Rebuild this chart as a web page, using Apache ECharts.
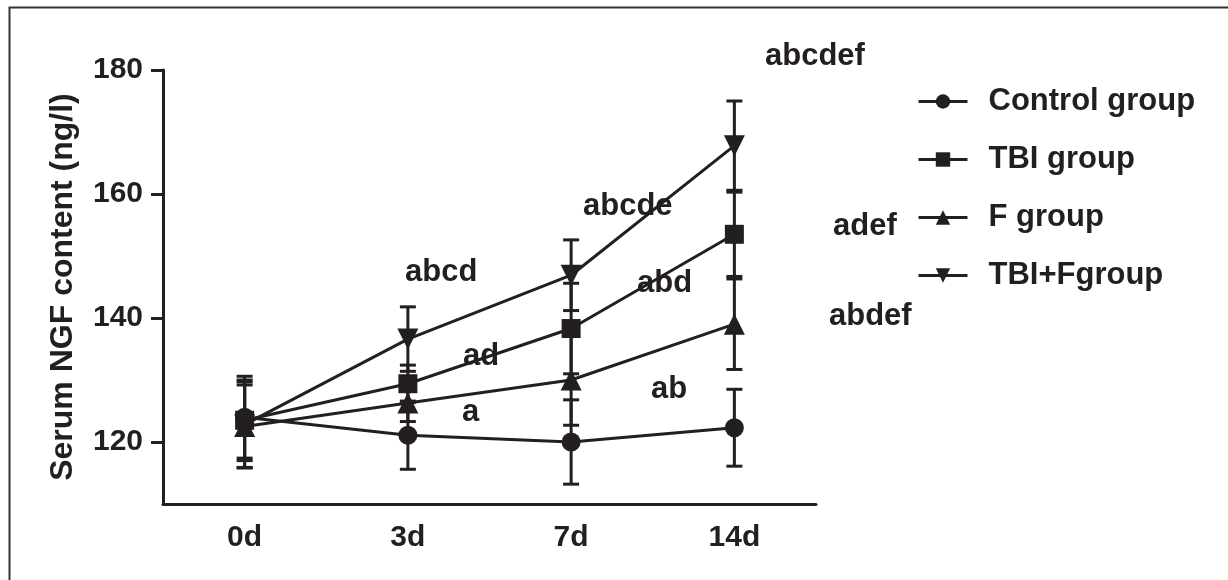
<!DOCTYPE html>
<html>
<head>
<meta charset="utf-8">
<script src="https://cdn.jsdelivr.net/npm/echarts@6/dist/echarts.min.js"></script>
<style>
  html, body { margin: 0; padding: 0; background: #fff; }
  #main { width: 1228px; height: 580px; }
</style>
</head>
<body>
<div id="main"></div>
<script>
// days
var days = ['0d', '3d', '7d', '14d'];
var seriesNames = ['Control group', 'TBI group', 'F group', 'TBI+Fgroup'];
// means
var controlMean = [124.0, 121.1, 120.0, 122.3];
var tbiMean     = [123.5, 129.4, 138.3, 153.5];
var fMean       = [122.5, 126.3, 130.0, 139.0];
var tbiFMean    = [122.8, 136.6, 146.9, 167.8];
// error bar half-lengths
var controlSd = [6.6, 5.5, 6.8, 6.2];
var tbiSd     = [6.5, 3.0, 7.3, 6.8];
var fSd       = [6.7, 3.0, 7.3, 7.3];
var tbiFSd    = [6.9, 5.2, 5.7, 7.2];
var yTicks = [120, 140, 160, 180];
// significance letters
var sigTexts = ['abcdef', 'abcde', 'abcd', 'ad', 'a', 'abd', 'ab', 'adef', 'abdef'];

var ink = '#231f20';
var font = '"Liberation Sans", Arial, sans-serif';

var means = [controlMean, tbiMean, fMean, tbiFMean];
var sds = [controlSd, tbiSd, fSd, tbiFSd];
var symbols = ['circle', 'rect', 'triangle', 'triangle'];
var rotates = [0, 0, 0, 180];

function errRender(params, api) {
  var x = api.value(0), y = api.value(1), sd = api.value(2);
  var hi = api.coord([x, y + sd]);
  var lo = api.coord([x, y - sd]);
  var half = 8;
  var st = { stroke: ink, lineWidth: 3 };
  return {
    type: 'group',
    children: [
      { type: 'line', shape: { x1: hi[0], y1: hi[1], x2: lo[0], y2: lo[1] }, style: st },
      { type: 'line', shape: { x1: hi[0] - half, y1: hi[1], x2: hi[0] + half, y2: hi[1] }, style: st },
      { type: 'line', shape: { x1: lo[0] - half, y1: lo[1], x2: lo[0] + half, y2: lo[1] }, style: st }
    ]
  };
}

var series = [];
means.forEach(function (m, i) {
  series.push({
    name: seriesNames[i] + ' err',
    type: 'custom',
    renderItem: errRender,
    data: m.map(function (v, j) { return [j, v, sds[i][j]]; }),
    z: 1,
    silent: true
  });
});
means.forEach(function (m, i) {
  series.push({
    name: seriesNames[i],
    type: 'line',
    data: m,
    symbol: symbols[i],
    symbolRotate: rotates[i],
    symbolSize: symbols[i] === 'triangle' ? 21 : 19,
    showAllSymbol: true,
    lineStyle: { color: ink, width: 3 },
    itemStyle: { color: ink },
    z: 3,
    animation: false
  });
});

// annotation letters, pixel placement
var sigPos = [[765, 57], [583, 207], [405, 273], [463, 357], [462, 413], [637, 284], [651, 390], [833, 227], [829, 317]];
var graphics = sigTexts.map(function (t, i) {
  return {
    type: 'text', left: sigPos[i][0], top: sigPos[i][1] - 16, z: 10,
    style: { text: t, fill: ink, font: 'bold 31px ' + font }
  };
});
graphics.push({
  type: 'rect', left: 7, top: 5, z: -1,
  shape: { width: 1240, height: 600 },
  style: { fill: 'none', stroke: '#333', lineWidth: 2 }
});

var chart = echarts.init(document.getElementById('main'));
chart.setOption({
  animation: false,
  backgroundColor: '#fff',
  grid: { left: 163, right: 412, top: 70, bottom: 76, containLabel: false },
  legend: {
    data: seriesNames,
    orient: 'vertical',
    left: 912,
    top: 81,
    itemWidth: 49,
    itemHeight: 18,
    itemGap: 27,
    lineStyle: { width: 3 },
    textStyle: { fontSize: 31, fontWeight: 'bold', color: ink, fontFamily: font, lineHeight: 31, padding: [0, 0, 0, 16] },
    inactiveColor: ink
  },
  xAxis: {
    type: 'category',
    data: days,
    boundaryGap: true,
    axisLine: { lineStyle: { color: ink, width: 3 } },
    axisTick: { alignWithLabel: true, length: 12, lineStyle: { color: ink, width: 3 } },
    axisLabel: { fontSize: 30, fontWeight: 'bold', color: ink, fontFamily: font, margin: 19 },
    splitLine: { show: false }
  },
  yAxis: {
    type: 'value',
    min: 110,
    max: 180,
    interval: 10,
    name: 'Serum NGF content (ng/l)',
    nameLocation: 'middle',
    nameGap: 84,
    nameTextStyle: { fontSize: 32, fontWeight: 'bold', color: ink, fontFamily: font },
    axisLine: { show: true, lineStyle: { color: ink, width: 3 } },
    axisTick: { show: true, length: 12, customValues: yTicks, lineStyle: { color: ink, width: 3 } },
    axisLabel: { fontSize: 30, fontWeight: 'bold', color: ink, fontFamily: font, margin: 20, customValues: yTicks },
    splitLine: { show: false }
  },
  series: series,
  graphic: graphics
});
</script>
</body>
</html>
